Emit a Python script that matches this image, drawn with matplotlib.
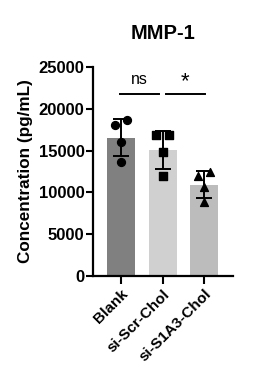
import numpy as np
import matplotlib
matplotlib.use('Agg')
from matplotlib import pyplot as plt

# data
groups = ['Blank', 'si-Scr-Chol', 'si-S1A3-Chol']
blank = [18000, 18600, 16000, 13600]
si_scr = [16800, 16800, 14800, 12000]
si_s1a3 = [11900, 12400, 10600, 8800]
colors = ['#808080', '#d0d0d0', '#bcbcbc']
markers = ['o', 's', '^']
jitter = [-0.15, 0.15, 0.0, 0.0]

plt.rcParams['font.family'] = ['Liberation Sans', 'DejaVu Sans']
plt.rcParams['font.weight'] = 'bold'

fig = plt.figure(figsize=(2.64, 3.82), dpi=100)
ax = fig.add_axes([0.352, 0.2775, 0.531, 0.5475])

data = [blank, si_scr, si_s1a3]
x = np.arange(len(groups))
means = [np.mean(d) for d in data]
sds = [np.std(d, ddof=1) for d in data]

ax.bar(x, means, width=0.68, color=colors, zorder=1)
ax.errorbar(x, means, yerr=sds, fmt='none', ecolor='black', elinewidth=1.4,
            capsize=5.5, capthick=1.4, zorder=3)
for i, d in enumerate(data):
    ax.scatter(x[i] + np.array(jitter), d, marker=markers[i], s=32,
               color='black', zorder=4)

# significance
ax.plot([-0.02, 0.92], [21700, 21700], color='black', lw=1.4, clip_on=False)
ax.plot([1.08, 2.02], [21700, 21700], color='black', lw=1.4, clip_on=False)
ax.text(0.45, 22600, 'ns', ha='center', va='bottom', fontsize=11.5,
        fontweight='normal')
ax.text(1.55, 22000, '*', ha='center', va='bottom', fontsize=16,
        fontweight='normal')

ax.set_xlim(-0.68, 2.7)
ax.set_ylim(0, 25000)
ax.set_yticks([0, 5000, 10000, 15000, 20000, 25000])
ax.set_xticks(x)
ax.set_xticklabels(groups, rotation=45, ha='right', rotation_mode='anchor',
                   fontsize=11)
ax.tick_params(axis='y', labelsize=12, width=1.5, length=5, pad=1)
ax.tick_params(axis='x', width=1.5, length=6, pad=2)
for s in ['top', 'right']:
    ax.spines[s].set_visible(False)
for s in ['left', 'bottom']:
    ax.spines[s].set_linewidth(1.6)

ax.set_ylabel('Concentration (pg/mL)', fontsize=12.3, fontweight='bold', labelpad=4)
ax.set_title('MMP-1', fontsize=14.5, fontweight='bold', pad=20)

plt.savefig('out.png', dpi=100)
